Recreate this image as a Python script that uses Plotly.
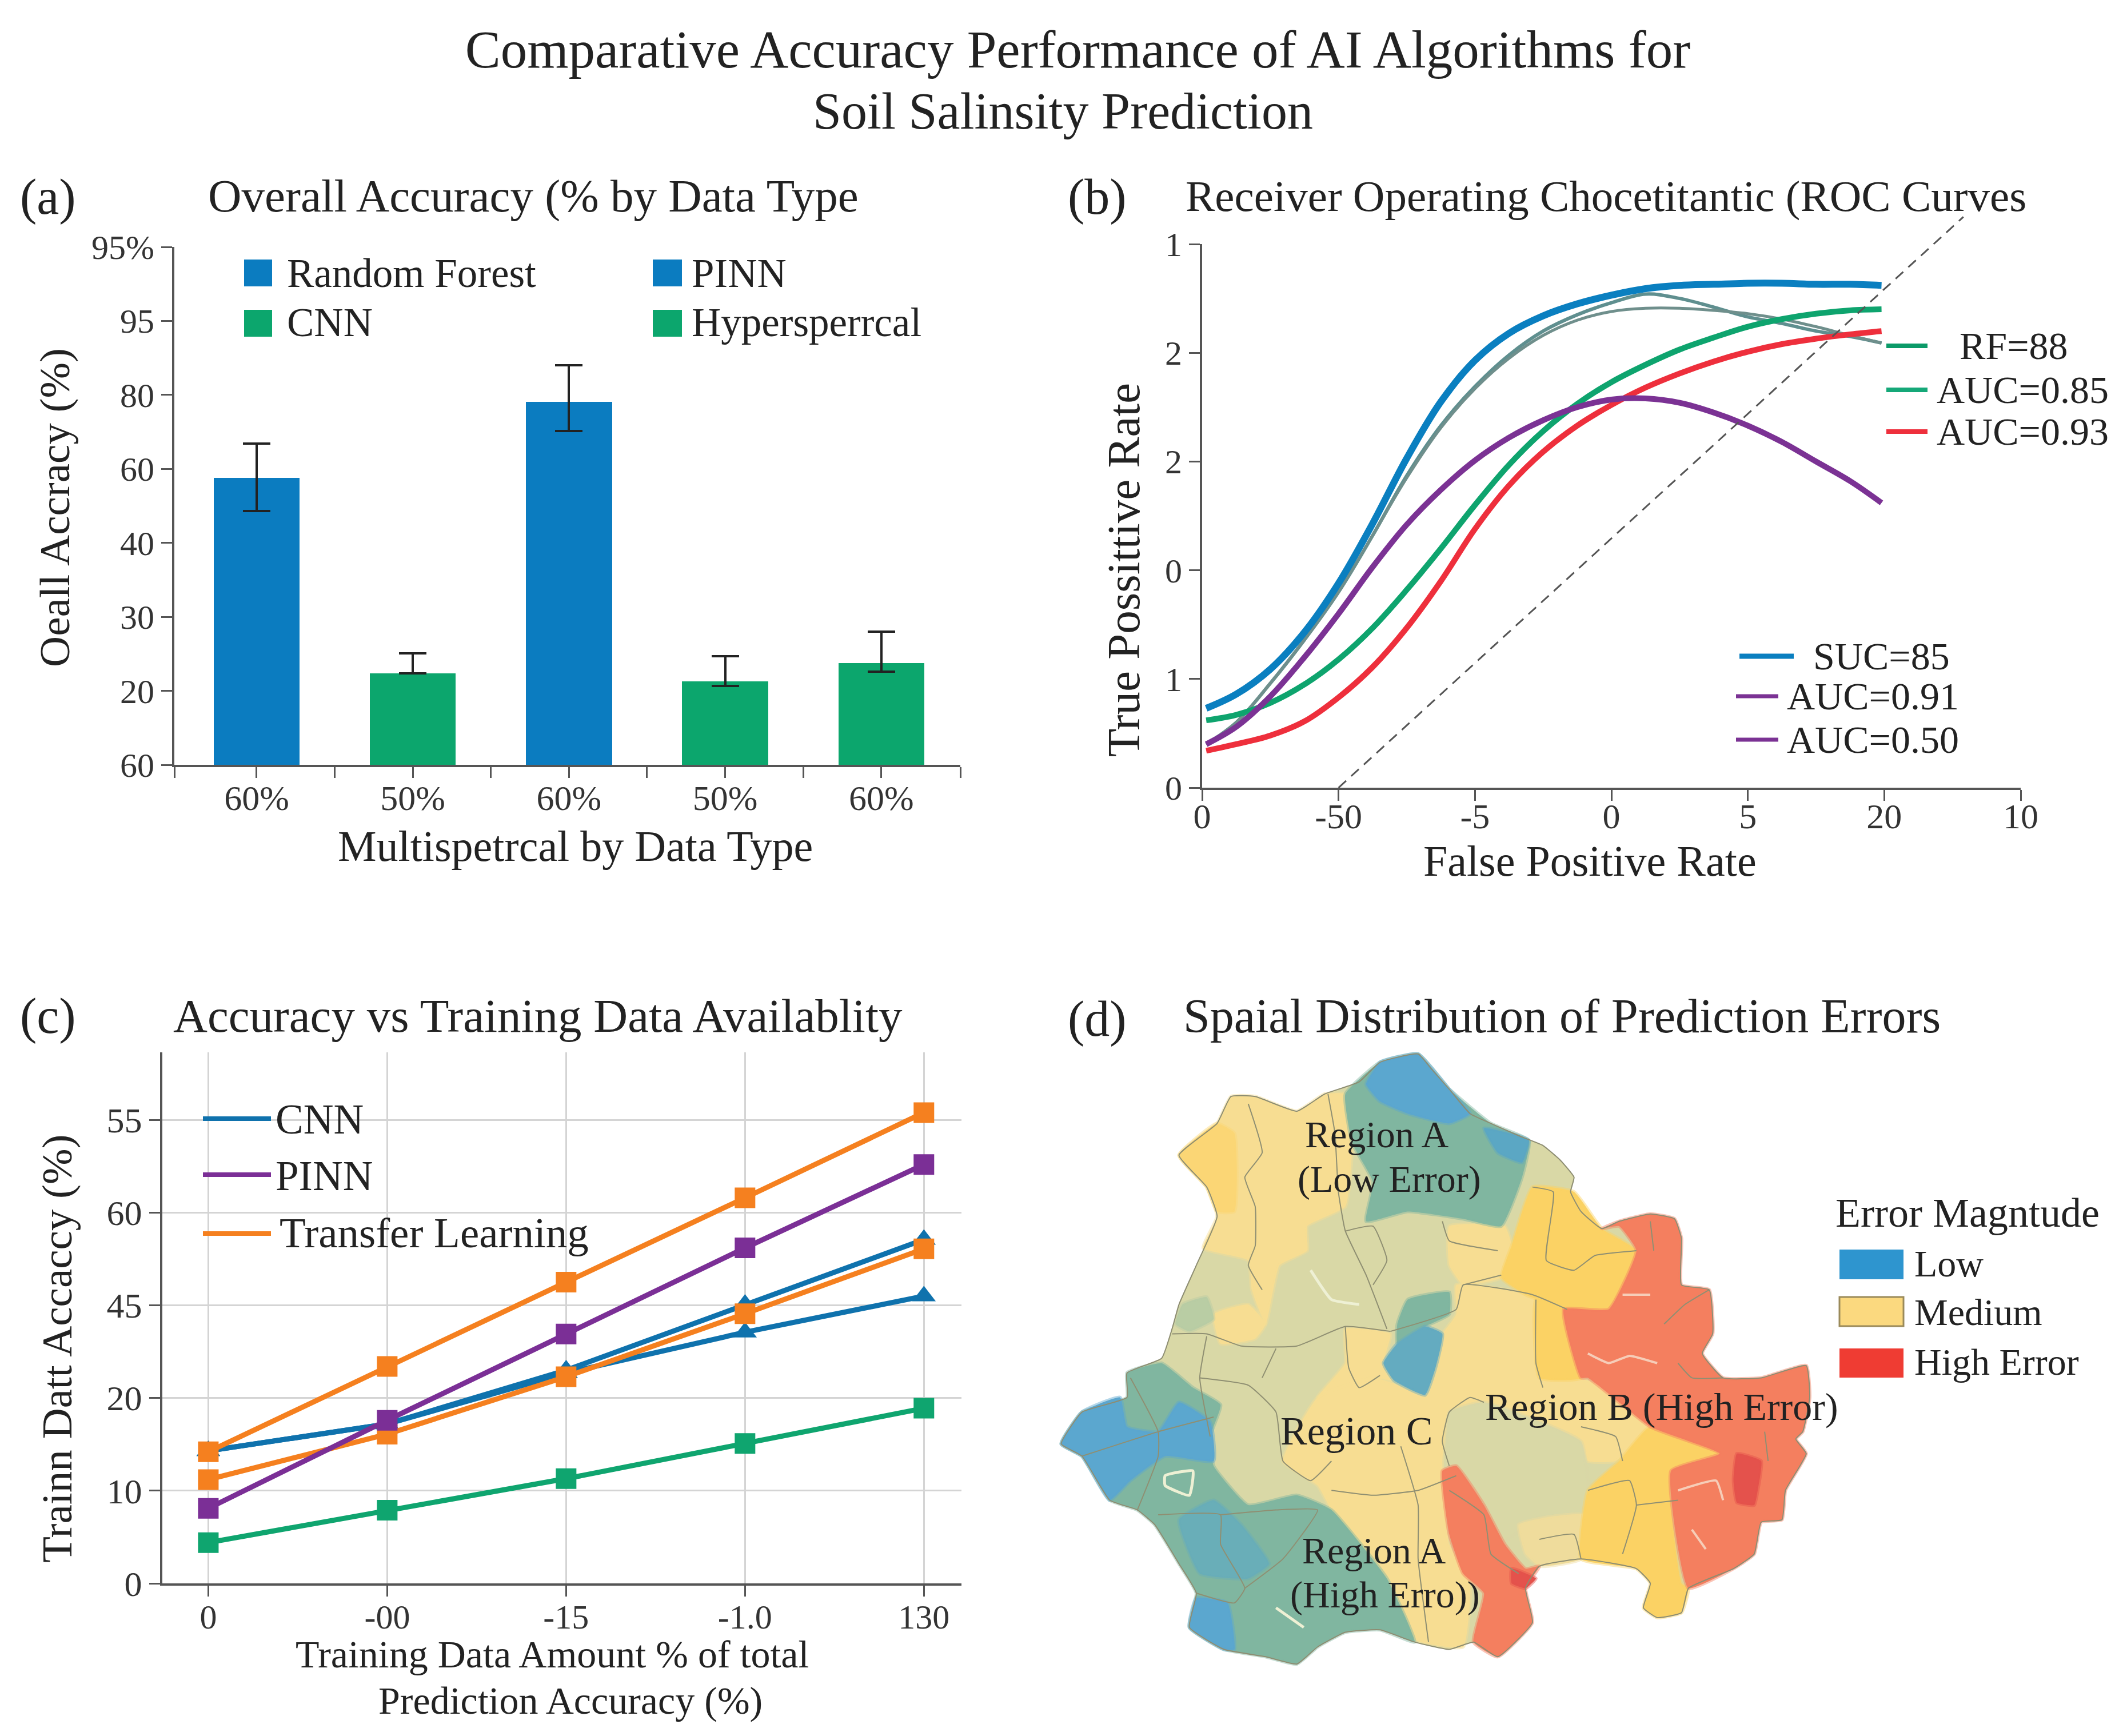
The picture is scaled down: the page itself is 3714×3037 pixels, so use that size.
import plotly.graph_objects as go

W, H = 3714, 3037
OFF = 8  # the page's body margin
FONT = "Liberation Serif"
INK = "#222222"
AXIS = "#555555"
BLUE = "#0b7cc0"
GREEN = "#0ca66d"

# ---------- panel (a) ----------
a_labels = ["60%", "50%", "60%", "50%", "60%"]
a_values = [3.88, 1.24, 4.905, 1.13, 1.375]
a_err_up = [0.46, 0.27, 0.495, 0.34, 0.425]
a_err_dn = [0.45, 0.0, 0.395, 0.06, 0.115]
a_colors = [BLUE, GREEN, BLUE, GREEN, GREEN]
a_yticks = ["60", "20", "30", "40", "60", "80", "95", "95%"]

# ---------- panel (b) ----------
b_x = [0.03, 0.25, 0.5, 0.75, 1.0, 1.25, 1.5, 1.75, 2.0, 2.25, 2.5, 2.75, 3.0, 3.25, 3.5, 3.75, 4.0, 4.25, 4.5, 4.75, 4.98]
b_blue = [0.73, 0.86, 1.09, 1.43, 1.88, 2.43, 3.03, 3.55, 3.93, 4.18, 4.34, 4.45, 4.53, 4.59, 4.62, 4.63, 4.64, 4.64, 4.63, 4.63, 4.62]
b_gray1 = [0.40, 0.60, 0.96, 1.36, 1.80, 2.32, 2.87, 3.33, 3.69, 3.98, 4.20, 4.35, 4.46, 4.54, 4.50, 4.42, 4.33, 4.27, 4.20, 4.15, 4.09]
b_gray2 = [0.40, 0.60, 0.96, 1.36, 1.80, 2.32, 2.85, 3.31, 3.67, 3.95, 4.16, 4.30, 4.38, 4.41, 4.41, 4.39, 4.36, 4.31, 4.24, 4.16, 4.09]
b_purple = [0.40, 0.56, 0.84, 1.20, 1.60, 2.03, 2.42, 2.74, 3.01, 3.22, 3.38, 3.50, 3.57, 3.58, 3.54, 3.45, 3.33, 3.18, 3.00, 2.82, 2.62]
b_green = [0.62, 0.67, 0.78, 0.95, 1.18, 1.47, 1.82, 2.20, 2.60, 2.97, 3.28, 3.53, 3.73, 3.89, 4.03, 4.14, 4.24, 4.31, 4.36, 4.39, 4.40]
b_red = [0.34, 0.40, 0.48, 0.61, 0.83, 1.11, 1.47, 1.90, 2.38, 2.78, 3.09, 3.33, 3.52, 3.68, 3.81, 3.92, 4.01, 4.08, 4.13, 4.17, 4.20]
b_diag_x = [1.0, 5.58]
b_diag_y = [0.0, 5.25]
b_xticks = ["0", "-50", "-5", "0", "5", "20", "10"]
b_yticks = ["0", "1", "0", "2", "2", "1"]

# ---------- panel (c) ----------
c_labels = ["0", "-00", "-15", "-1.0", "130"]
c_yticks = ["0", "10", "20", "45", "60", "55"]
c_orange_top = [1.42, 2.34, 3.25, 4.16, 5.08]
c_purple = [0.81, 1.76, 2.69, 3.62, 4.52]
c_blue_up = [1.43, 1.72, 2.30, 3.01, 3.71]
c_blue_low = [1.43, 1.72, 2.27, 2.71, 3.10]
c_orange_mid = [1.12, 1.61, 2.23, 2.91, 3.61]
c_green = [0.44, 0.79, 1.13, 1.51, 1.89]

# ---------- panel (d): map polygons in map units ----------
map_outline = [(490,185),(545,168),(565,200),(590,240),(620,290),(650,310),(690,335),(725,355),(750,385),(770,420),(765,450),(780,490),(810,525),(835,510),(880,495),(915,505),(925,545),(925,640),(965,650),(970,740),(955,780),(985,830),(1040,830),(1105,805),(1110,870),(1100,940),(1090,955),(1105,985),(1075,1060),(1070,1120),(1040,1125),(1030,1190),(1000,1220),(935,1260),(925,1310),(890,1320),(870,1300),(880,1250),(860,1220),(780,1200),(720,1215),(700,1260),(710,1330),(660,1400),(625,1370),(590,1385),(540,1370),(490,1345),(440,1350),(400,1380),(370,1415),(325,1400),(265,1385),(215,1340),(225,1270),(200,1210),(165,1130),(140,1100),(100,1080),(60,990),(30,965),(60,900),(125,870),(125,820),(175,790),(190,730),(200,680),(225,600),(255,500),(240,440),(200,375),(255,310),(275,255),(310,255),(370,285),(410,250),(460,225)]
map_yellow_nw = [(200,375),(255,310),(275,255),(310,255),(370,285),(410,250),(440,250),(450,350),(440,480),(385,520),(385,570),(345,600),(325,720),(305,650),(300,590),(235,565),(255,500),(240,440)]
map_yellow_nw_deep = [(200,375),(255,310),(280,330),(280,490),(255,490),(240,440)]
map_yellow_west = [(250,700),(300,680),(325,720),(310,750),(260,760)]
map_pale_ne = [(590,520),(670,520),(680,560),(665,625),(610,640),(590,600)]
map_pale_mid = [(440,730),(505,740),(495,800),(510,835),(480,830),(400,870),(440,800)]
map_pale_se = [(690,1130),(730,1115),(785,1110),(780,1200),(720,1215),(700,1190)]
map_spot_nw = [(205,680),(240,665),(250,710),(215,735),(195,720)]
map_yellow_center = [(600,640),(710,660),(760,690),(780,830),(800,840),(880,930),(830,1000),(790,1000),(780,960),(640,880),(590,900),(580,1000),(590,1170),(620,1250),(610,1380),(540,1365),(500,1240),(420,1100),(400,1050),(350,1000),(400,870),(480,830),(560,860),(560,780),(600,700)]
map_khaki_south = [(590,900),(640,880),(780,960),(790,1060),(780,1110),(720,1115),(660,1170),(640,1090),(590,1010)]
map_deep_ne = [(710,440),(770,450),(810,525),(860,570),(820,690),(760,690),(700,660),(665,625),(680,560)]
map_deep_mid = [(715,670),(755,690),(780,830),(720,830)]
map_deep_se = [(880,930),(980,985),(910,1020),(925,1250),(935,1260),(925,1310),(890,1320),(870,1300),(880,1250),(860,1220),(780,1200),(790,1060),(835,1000)]
map_teal_n = [(440,250),(490,185),(545,168),(590,240),(650,310),(705,345),(695,420),(665,520),(610,505),(530,490),(470,510),(480,430),(450,350)]
map_blue_n1 = [(470,230),(490,185),(545,168),(590,240),(620,290),(590,310),(530,290),(490,265)]
map_blue_n2 = [(640,320),(690,335),(705,345),(695,390),(660,370)]
map_teal_sw = [(30,965),(60,900),(125,870),(125,820),(175,800),(220,850),(260,885),(245,950),(250,1010),(300,1090),(370,1070),(420,1100),(500,1240),(530,1330),(540,1370),(490,1345),(440,1350),(400,1380),(370,1415),(325,1400),(265,1385),(215,1340),(225,1270),(200,1210),(165,1130),(140,1100),(100,1080),(60,990)]
map_blue_w = [(30,965),(60,900),(115,870),(125,930),(170,940),(200,880),(245,920),(250,1000),(180,990),(130,1040),(100,1080),(60,990)]
map_blue_sw = [(215,1340),(225,1280),(270,1290),(280,1385),(265,1385)]
map_blue_mid = [(200,1120),(250,1080),(290,1130),(330,1210),(300,1240),(230,1230)]
map_lake_teal = [(515,720),(530,670),(590,655),(590,700),(555,725),(515,760)]
map_lake_blue = [(515,760),(555,725),(580,740),(570,810),(555,865),(510,835),(495,800)]
map_red_e = [(810,525),(835,510),(880,495),(915,505),(925,545),(925,640),(965,650),(970,740),(955,780),(985,830),(1040,830),(1105,805),(1110,870),(1100,940),(1090,955),(1105,985),(1075,1060),(1070,1120),(1040,1125),(1030,1190),(1000,1220),(935,1260),(910,1020),(980,985),(880,930),(790,830),(780,830),(755,690),(820,690),(860,570),(835,520)]
map_red_s = [(580,1020),(600,1010),(640,1090),(670,1170),(700,1220),(720,1215),(700,1260),(710,1330),(660,1400),(625,1370),(640,1270),(610,1230),(590,1150)]
map_red_spot1 = [(1005,985),(1040,1000),(1035,1060),(1030,1090),(1005,1085),(1000,1040)]
map_red_spot2 = [(680,1220),(715,1240),(700,1260),(680,1250)]
map_boundaries = [
    [(300,270),(320,370),(295,420),(310,480),(310,560),(300,600),(320,650)],
    [(415,250),(425,330),(430,450),(440,530),(470,620),(500,730)],
    [(190,740),(240,740),(290,765),(370,765),(440,725),(505,735)],
    [(505,735),(600,690),(610,640),(710,660),(760,690)],
    [(715,670),(715,800),(725,850)],
    [(230,830),(300,845),(340,900),(350,1000),(390,1040),(420,1000)],
    [(240,745),(230,830),(245,950)],
    [(340,770),(320,830)],
    [(440,725),(445,810),(460,850),(490,825)],
    [(130,830),(170,940),(170,990),(140,1100)],
    [(60,990),(170,940),(250,910)],
    [(520,970),(545,1090),(545,1200),(560,1370)],
    [(640,880),(620,870),(590,900),(580,960),(590,1010)],
    [(420,1060),(480,1070),(545,1060),(600,1030)],
    [(170,1110),(260,1110),(260,1170),(295,1260),(280,1290),(225,1270)],
    [(295,1260),(350,1200),(400,1100),(340,1100),(260,1110)],
    [(710,440),(740,450),(730,590),(770,610),(800,580),(860,570)],
    [(665,620),(610,640)],
    [(580,510),(590,550),(660,570)],
    [(790,1060),(850,1040),(860,1090),(840,1190)],
    [(860,1090),(920,1080)],
    [(720,1160),(770,1150),(780,1200)],
    [(840,1000),(830,950),(780,930)],
    [(440,530),(480,520),(500,590),(480,640)],
    [(880,510),(885,570)],
    [(900,720),(930,680),(965,650)],
    [(920,800),(940,830),(985,830)],
    [(1045,940),(1050,1000)],
    [(590,1060),(640,1110),(650,1190),(690,1230)],
]
map_speckles_red = [
    [(790,780),(820,800),(850,785),(890,800)],
    [(840,660),(880,660)],
    [(920,1060),(975,1040),(985,1080)],
    [(940,1140),(960,1180)],
]
map_speckles_pale = [
    [(180,1030),(220,1020),(215,1070),(180,1050),(180,1030)],
    [(340,1300),(380,1340)],
    [(390,610),(420,670),(460,680)],
]

# ---------- layout helpers ----------
def PX(p):
    return (p - OFF) / W

def PY(p):
    return 1 - (p - OFF) / H

def dx(p0, p1):
    return [PX(p0), PX(p1)]

def dy(p_top, p_bottom):
    return [PY(p_bottom), PY(p_top)]

fig = go.Figure()

# (a) bars
fig.add_trace(go.Bar(
    x=list(range(5)), y=a_values, width=0.55, marker=dict(color=a_colors, line_width=0),
    error_y=dict(type="data", symmetric=False, array=a_err_up, arrayminus=a_err_dn,
                 color=INK, thickness=4, width=24),
    xaxis="x", yaxis="y", showlegend=False))

# (b) curves
for ys, col, lw in [(b_gray1, "#5f8f8f", 6), (b_gray2, "#6f8f8c", 5), (b_blue, "#0a7fc0", 12),
                    (b_green, "#0ea46e", 10), (b_red, "#ee2f3c", 10), (b_purple, "#7b3294", 10)]:
    fig.add_trace(go.Scatter(x=b_x, y=ys, mode="lines", line=dict(color=col, width=lw, shape="spline", smoothing=1.0),
                             xaxis="x2", yaxis="y2", showlegend=False, cliponaxis=False))
# the chance line runs past the top of the axes, so it has an overlay pair of axes with the same scale
fig.add_trace(go.Scatter(x=b_diag_x, y=b_diag_y, mode="lines",
                         line=dict(color="#555555", width=3, dash="18px,12px"),
                         xaxis="x5", yaxis="y5", showlegend=False))

# (c) lines
for ys, col, sym in [(c_blue_low, "#0f72ad", "triangle-up"), (c_blue_up, "#0f72ad", "triangle-up"),
                     (c_orange_mid, "#f5801f", "square"), (c_purple, "#7b2f96", "square"),
                     (c_orange_top, "#f5801f", "square"), (c_green, "#0fa56f", "square")]:
    fig.add_trace(go.Scatter(x=list(range(5)), y=ys, mode="lines+markers",
                             line=dict(color=col, width=9), marker=dict(color=col, size=36, symbol=sym),
                             xaxis="x3", yaxis="y3", showlegend=False, cliponaxis=False))

# (d) map
def soft(color, alpha):
    r, g, b = int(color[1:3], 16), int(color[3:5], 16), int(color[5:7], 16)
    return f"rgba({r},{g},{b},{alpha})"

SMOOTH = 0.4

def poly(points, color, edge=6):
    fig.add_trace(go.Scatter(
        x=[p[0] for p in points] + [points[0][0]], y=[p[1] for p in points] + [points[0][1]],
        mode="lines", fill="toself", fillcolor=color,
        line=dict(color=soft(color, 0.45) if edge else color, width=edge, shape="spline", smoothing=SMOOTH),
        xaxis="x4", yaxis="y4", showlegend=False, hoverinfo="skip"))

def polyline(points, color, lw):
    fig.add_trace(go.Scatter(x=[p[0] for p in points], y=[p[1] for p in points], mode="lines",
                             line=dict(color=color, width=lw, shape="spline", smoothing=SMOOTH),
                             xaxis="x4", yaxis="y4", showlegend=False, hoverinfo="skip"))

MKHAKI, MYEL, MDEEP, MTEAL, MBLUE, MRED, MDRED = "#d9d8a6", "#f7dd92", "#fbd264", "#80b6a0", "#5ba7cf", "#f47f5f", "#e4524c"
poly(map_outline, MKHAKI, 0)
poly(map_yellow_nw, MYEL)
poly(map_yellow_nw_deep, "#fbd675")
poly(map_yellow_west, MYEL)
poly(map_pale_ne, MYEL)
poly(map_pale_mid, MYEL)
poly(map_spot_nw, "#b9cda4")
poly(map_yellow_center, MYEL)
poly(map_khaki_south, MKHAKI)
poly(map_pale_se, "#efdc9c")
poly(map_deep_ne, MDEEP)
poly(map_deep_mid, MDEEP)
poly(map_deep_se, MDEEP)
poly(map_teal_n, MTEAL)
poly(map_blue_n1, MBLUE)
poly(map_blue_n2, "#5ba7c4")
poly(map_teal_sw, MTEAL)
poly(map_blue_w, MBLUE)
poly(map_blue_sw, MBLUE)
poly(map_blue_mid, "#69aeb8")
poly(map_lake_teal, MTEAL)
poly(map_lake_blue, "#64abc0")
poly(map_red_e, MRED)
poly(map_red_s, MRED)
poly(map_red_spot1, MDRED)
poly(map_red_spot2, MDRED)
for seg in map_boundaries:
    polyline(seg, "#8f8f72", 2)
for seg in map_speckles_red:
    polyline(seg, "#f6cdb8", 4)
for seg in map_speckles_pale:
    polyline(seg, "#eef0d4", 5)
polyline(map_outline + map_outline[:1], "#8d8d72", 2)

# ---------- text / legends ----------
anns, shapes = [], []

def text(px, py, s, size, anchor="left", angle=0):
    anns.append(dict(x=PX(px), y=PY(py), xref="paper", yref="paper", text=s, showarrow=False,
                     xanchor=anchor, yanchor="middle", align="center", textangle=angle,
                     font=dict(family=FONT, size=size, color=INK)))

def swatch(x0, y0, x1, y1, color, outline=None):
    shapes.append(dict(type="rect", xref="paper", yref="paper", x0=PX(x0), x1=PX(x1),
                       y0=PY(y1), y1=PY(y0), fillcolor=color,
                       line=dict(color=outline or color, width=3 if outline else 0)))

def key(x0, x1, y, color, lw):
    shapes.append(dict(type="line", xref="paper", yref="paper", x0=PX(x0), x1=PX(x1),
                       y0=PY(y), y1=PY(y), line=dict(color=color, width=lw)))

R = 3714 / 1568  # reference overview scale, used for text placement

# second title line
text(785 * R, 82 * R, "Soil Salinsity Prediction", 90, "center")

# panel letters and titles
for lx, ly, s in [(33, 345, "(a)"), (1866, 345, "(b)"), (33, 1777, "(c)"), (1866, 1782, "(d)")]:
    text(lx, ly, s, 88)
text(933, 343, "Overall Accuracy (% by Data Type", 81, "center")
text(2809, 343, "Receiver Operating Chocetitantic (ROC Curves", 77, "center")
text(941, 1777, "Accuracy vs Training Data Availablity", 83, "center")
text(2732, 1777, "Spaial Distribution of Prediction Errors", 84, "center")

# axis titles
text(425 * R, 625 * R, "Multispetrcal by Data Type", 76, "center")
text(40 * R, 375 * R, "Oeall Accracy (%)", 75, "center", -90)
text(1174.5 * R, 636 * R, "False Positive Rate", 76, "center")
text(830 * R, 421 * R, "True Possittive Rate", 81, "center", -90)
text(408 * R, 1222 * R, "Training Data Amount % of total", 68, "center")
text(421.5 * R, 1256 * R, "Prediction Accuracy (%)", 68, "center")
text(42 * R, 996 * R, "Trainn Datt Accaccy (%)", 75, "center", -90)

# panel (a) legend
swatch(427, 454, 476, 501, BLUE); text(500, 478, "Random Forest", 71)
swatch(1142, 454, 1193, 501, BLUE); text(1208, 478, "PINN", 71)
swatch(427, 542, 476, 589, GREEN); text(500, 564, "CNN", 71)
swatch(1142, 542, 1193, 589, GREEN); text(1208, 564, "Hypersperrcal", 71)

# panel (b) legend
key(3300, 3372, 605, "#0b9a68", 8); text(3426, 605, "RF=88", 68)
key(3300, 3372, 682, "#15a878", 8); text(3386, 682, "AUC=0.85", 68)
key(3300, 3372, 755, "#ee2f3c", 8); text(3386, 755, "AUC=0.93", 68)
key(3043, 3138, 1148, "#0a7fc0", 9); text(3170, 1148, "SUC=85", 68)
key(3037, 3111, 1218, "#7b3294", 7); text(3124, 1218, "AUC=0.91", 68)
key(3037, 3111, 1294, "#7b3294", 7); text(3124, 1294, "AUC=0.50", 68)

# panel (c) legend
key(355, 474, 1957, "#0f72ad", 8); text(480, 1958, "CNN", 73)
key(355, 474, 2055, "#7b2f96", 8); text(480, 2057, "PINN", 73)
key(355, 474, 2158, "#f5801f", 8); text(487, 2156, "Transfer Learning", 75)

# panel (d) labels and legend
text(1017 * R, 838 * R, "Region A", 66, "center")
text(1026 * R, 871 * R, "(Low Error)", 66, "center")
text(1002 * R, 1057 * R, "Region C", 70, "center")
text(1227.5 * R, 1039 * R, "Region B (High Error)", 68, "center")
text(1015 * R, 1145 * R, "Region A", 66, "center")
text(1023 * R, 1178 * R, "(High Erro))", 66, "center")
text(1355 * R, 896 * R, "Error Magntude", 72)
swatch(3218, 2186, 3330, 2238, "#2e95cf"); text(3347, 2210, "Low", 66)
swatch(3218, 2269, 3330, 2320, "#fbd97f", "#9a8a5a"); text(3347, 2295, "Medium", 66)
swatch(3218, 2359, 3330, 2410, "#ef3c33"); text(3347, 2382, "High Error", 66)

# ---------- axes ----------
def axis(size=60, **kw):
    base = dict(showline=True, linecolor=AXIS, linewidth=4, showgrid=False, zeroline=False, automargin=False,
                ticks="outside", ticklen=19, tickwidth=3, tickcolor=AXIS, tickmode="array",
                tickfont=dict(family=FONT, size=size, color="#333333"))
    base.update(kw)
    return base

B_TOP, B_BOTTOM = 427, 1378
B_UNIT = (B_BOTTOM - B_TOP) / 5
B_YMAX = 5.3

fig.update_layout(
    width=W, height=H, margin=dict(l=0, r=0, t=0, b=0, autoexpand=False), paper_bgcolor="white",
    plot_bgcolor="rgba(0,0,0,0)",
    font=dict(family=FONT, color=INK), showlegend=False, bargap=0,
    title=dict(text="Comparative Accuracy Performance of AI Algorithms for",
               x=PX(796 * R), xanchor="center", y=PY(36 * R), yanchor="middle",
               font=dict(family=FONT, size=93, color=INK)),
    xaxis=axis(62, domain=dx(305, 1680), range=[-0.527, 4.506], tickvals=list(range(5)), ticktext=a_labels,
               ticklabelstandoff=-18,
               minor=dict(tickmode="array", tickvals=[-0.527, 0.5, 1.5, 2.5, 3.5, 4.506], ticks="outside",
                          ticklen=19, tickwidth=3, tickcolor=AXIS), anchor="y"),
    yaxis=axis(60, domain=dy(432, 1338), range=[0, 7], tickvals=list(range(8)), ticktext=a_yticks, anchor="x"),
    xaxis2=axis(62, domain=dx(2103, 3535), range=[0, 6], tickvals=list(range(7)), ticktext=b_xticks,
                ticklabelstandoff=-26, anchor="y2"),
    yaxis2=axis(60, domain=dy(B_TOP, B_BOTTOM), range=[0, 5], tickvals=list(range(6)), ticktext=b_yticks, anchor="x2"),
    xaxis3=axis(60, domain=dx(284, 1682), range=[-0.257, 4.21], tickvals=list(range(5)), ticktext=c_labels,
                ticklabelstandoff=-16, showgrid=True, gridcolor="#d4d4d4", gridwidth=3, anchor="y3"),
    yaxis3=axis(62, domain=dy(1841, 2770), range=[0, 5.73], tickvals=list(range(6)), ticktext=c_yticks,
                showgrid=True, gridcolor="#d4d4d4", gridwidth=3, anchor="x3"),
    xaxis4=dict(domain=dx(1820, W), range=[0, 1562], visible=False, anchor="y4"),
    yaxis4=dict(domain=dy(1700, H), range=[1562, 0], visible=False, anchor="x4"),
    xaxis5=dict(domain=dx(2103, 3535), range=[0, 6], visible=False, anchor="y5"),
    yaxis5=dict(domain=dy(B_TOP - (B_YMAX - 5) * B_UNIT, B_BOTTOM), range=[0, B_YMAX], visible=False, anchor="x5"),
    annotations=anns, shapes=shapes,
)

fig.write_html("out.html")
